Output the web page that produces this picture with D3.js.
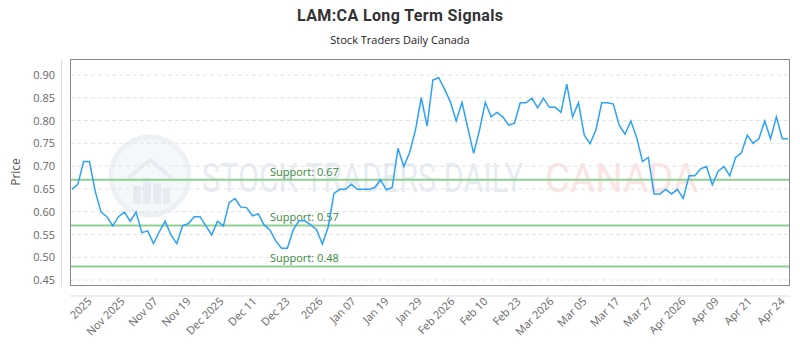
<!DOCTYPE html>
<html><head><meta charset="utf-8">
<script src="https://cdn.jsdelivr.net/npm/d3@7"></script>
<style>body{margin:0;background:#fff}svg{display:block}</style>
</head><body><svg id="c" width="800" height="350"></svg>
<script>
const title = "LAM:CA Long Term Signals";
const subtitle = "Stock Traders Daily Canada";
const prices = [0.649,0.660,0.710,0.710,0.644,0.599,0.589,0.569,0.589,0.599,0.579,0.599,0.554,0.558,0.530,0.556,0.579,0.549,0.530,0.569,0.574,0.589,0.589,0.569,0.549,0.579,0.569,0.620,0.629,0.610,0.609,0.591,0.595,0.571,0.560,0.536,0.520,0.520,0.560,0.580,0.580,0.571,0.561,0.529,0.566,0.640,0.649,0.649,0.660,0.649,0.649,0.649,0.653,0.670,0.648,0.653,0.739,0.699,0.730,0.779,0.850,0.788,0.889,0.894,0.869,0.841,0.799,0.840,0.783,0.728,0.779,0.840,0.808,0.818,0.808,0.790,0.794,0.839,0.839,0.849,0.828,0.849,0.829,0.829,0.818,0.880,0.808,0.839,0.768,0.749,0.779,0.839,0.839,0.836,0.790,0.770,0.799,0.763,0.710,0.719,0.639,0.639,0.649,0.639,0.649,0.629,0.679,0.679,0.694,0.699,0.659,0.689,0.699,0.679,0.719,0.729,0.768,0.750,0.760,0.799,0.760,0.808,0.760,0.760];
const xTickLabels = ["2025","Nov 2025","Nov 07","Nov 19","Dec 2025","Dec 11","Dec 23","2026","Jan 07","Jan 19","Jan 29","Feb 2026","Feb 10","Feb 23","Mar 2026","Mar 05","Mar 17","Mar 27","Apr 2026","Apr 09","Apr 21","Apr 24"];
const yTicks = [0.45,0.50,0.55,0.60,0.65,0.70,0.75,0.80,0.85,0.90];
const supports = [0.67,0.57,0.48];

const svg = d3.select("#c");
const L = 70, R = 790, T = 59, B = 286;
const font = "'Open Sans', sans-serif";

const x = d3.scaleLinear().domain([0, prices.length-1]).range([L+2, R-2]);
const y = d3.scaleLinear().domain([0.437, 0.935]).range([B, T]);
const xt = d3.scalePoint().domain(xTickLabels).range([92, 785]);

// titles
svg.append("text").attr("x",400).attr("y",21).attr("text-anchor","middle")
  .attr("font-family","Roboto, sans-serif").attr("font-weight","bold").attr("font-size",16)
  .attr("fill","#333").attr("textLength",206).text(title);
svg.append("text").attr("x",400).attr("y",44).attr("text-anchor","middle")
  .attr("font-family",font).attr("font-size",11).attr("fill","#222").text(subtitle);

// watermark
const wm = svg.append("g").attr("opacity",0.55);
wm.append("circle").attr("cx",150).attr("cy",176).attr("r",39).attr("fill","#eef3f9").attr("stroke","#dfe6ef").attr("stroke-width",5);
wm.append("path").attr("d","M128,178 L150,160 L172,178").attr("fill","none").attr("stroke","#d6dee9").attr("stroke-width",4);
[[133,186,8,18],[143,178,8,26],[153,183,8,21],[163,188,7,16]].forEach(b=>
  wm.append("rect").attr("x",b[0]).attr("y",b[1]).attr("width",b[2]).attr("height",b[3]).attr("fill","#d6dee9"));
wm.append("text").attr("x",202).attr("y",192).attr("font-family","Roboto, sans-serif").attr("font-size",40)
  .attr("fill","#d5deea").attr("textLength",321).attr("lengthAdjust","spacingAndGlyphs").text("STOCK TRADERS DAILY");
wm.append("text").attr("x",545).attr("y",192).attr("font-family","Roboto, sans-serif").attr("font-size",40)
  .attr("fill","#f8cfcf").attr("textLength",153).attr("lengthAdjust","spacingAndGlyphs").text("CANADA");

// grid
svg.append("g").selectAll("line").data(yTicks).join("line")
  .attr("x1",L).attr("x2",R).attr("y1",d=>y(d)).attr("y2",d=>y(d))
  .attr("stroke","#e3e3e3").attr("stroke-dasharray","4,3");

// y axis
const ya = svg.append("g").attr("transform",`translate(61,0)`)
  .call(d3.axisLeft(y).tickValues(yTicks).tickFormat(d3.format(".2f")).tickSize(0).tickPadding(6));
ya.select(".domain").attr("stroke","#ddd");
ya.selectAll("text").attr("font-family",font).attr("font-size",11).attr("fill","#666");
svg.append("text").attr("transform","translate(20,172) rotate(-90)").attr("text-anchor","middle")
  .attr("font-family",font).attr("font-size",12).attr("fill","#555").text("Price");

// x axis
const xa = svg.append("g").attr("transform",`translate(0,296)`)
  .call(d3.axisBottom(xt).tickSize(0).tickPadding(0));
xa.select(".domain").remove();
svg.append("line").attr("x1",L).attr("x2",R).attr("y1",296).attr("y2",296).attr("stroke","#ddd");
xa.selectAll("text").attr("font-family",font).attr("font-size",11).attr("fill","#666")
  .attr("text-anchor","end").attr("dy",null).attr("y",0)
  .attr("transform","translate(0,6) rotate(-45)");

// supports
const sg = svg.append("g");
sg.selectAll("line").data(supports).join("line")
  .attr("x1",L).attr("x2",R).attr("y1",d=>y(d)).attr("y2",d=>y(d))
  .attr("stroke","#8fcf8f").attr("stroke-width",2);
sg.selectAll("text").data(supports).join("text")
  .attr("x",270).attr("y",d=>y(d)-4).attr("font-family",font).attr("font-size",11)
  .attr("fill","#3a8a3a").text(d=>"Support: "+d.toFixed(2));

// line
svg.append("path").datum(prices)
  .attr("d", d3.line().x((d,i)=>x(i)).y(d=>y(d)))
  .attr("fill","none").attr("stroke","#2da2f5").attr("stroke-width",1.5).attr("stroke-linejoin","miter");

// frame
svg.append("rect").attr("x",L+0.5).attr("y",T+0.5).attr("width",R-L-1).attr("height",B-T-1)
  .attr("fill","none").attr("stroke","#888");
</script></body></html>
